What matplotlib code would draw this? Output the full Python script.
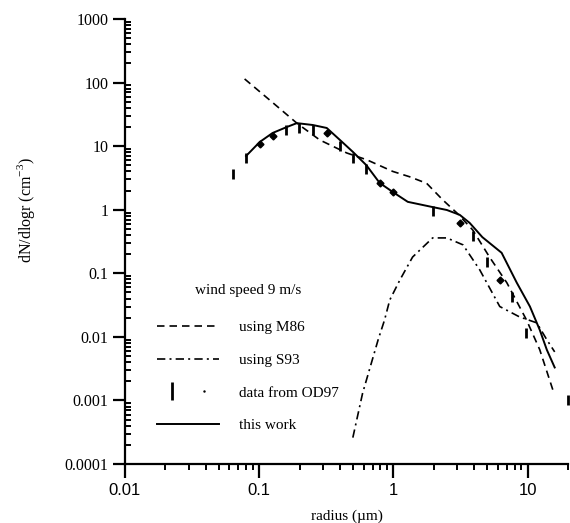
import matplotlib
matplotlib.use('Agg')
import matplotlib.pyplot as plt
from matplotlib.lines import Line2D
from matplotlib.legend_handler import HandlerTuple

# radius (um) and dN/dlogr (cm^-3)
r_this = [0.08, 0.101, 0.126, 0.161, 0.191, 0.251, 0.319, 0.40, 0.50, 0.63, 0.79, 0.99,
          1.28, 1.96, 2.5, 3.12, 3.7, 4.6, 6.4, 8.3, 10.4, 12.3, 13.9, 15.9]
n_this = [7.0, 11.6, 16.1, 20, 23, 21.5, 19.3, 12.5, 8.1, 5.0, 2.64, 1.9,
          1.33, 1.1, 0.99, 0.83, 0.62, 0.37, 0.21, 0.071, 0.030, 0.0129, 0.00625, 0.0033]

r_m86 = [0.078, 0.12, 0.191, 0.283, 0.45, 0.634, 0.99, 1.32, 1.77, 2.33, 2.97, 3.9,
         5.2, 7.0, 9.8, 12.3, 15.4]
n_m86 = [114, 53, 23, 12.5, 7.8, 6.1, 4.0, 3.3, 2.6, 1.43, 0.89, 0.48,
         0.18, 0.071, 0.0185, 0.0063, 0.00147]

r_s93 = [0.499, 0.59, 0.77, 0.86, 0.94, 1.12, 1.39, 1.96, 2.5, 3.3, 4.4, 6.2,
         8.7, 11.7, 13.9, 15.9]
n_s93 = [0.00026, 0.0013, 0.009, 0.0185, 0.038, 0.079, 0.18, 0.36, 0.36, 0.28, 0.113, 0.030,
         0.0206, 0.0166, 0.009, 0.0058]

# OD97 data points (bars and filled points)
r_bar = [0.0637, 0.0796, 0.158, 0.197, 0.251, 0.40, 0.50, 0.63, 1.96, 3.9, 5.0, 7.7, 9.8, 19.9]
n_bar = [3.66, 6.6, 18, 19, 18, 10, 6.6, 4.3, 0.94, 0.39, 0.148, 0.042, 0.0117, 0.00102]
r_dia = [0.101, 0.126, 0.319, 0.79, 0.99, 3.12, 6.2]
n_dia = [10.8, 14.5, 16, 2.6, 1.9, 0.62, 0.079]

x_ticks = [0.01, 0.1, 1, 10]
x_ticklabels = ['0.01', '0.1', '1', '10']
y_ticks = [0.0001, 0.001, 0.01, 0.1, 1, 10, 100, 1000]
y_ticklabels = ['0.0001', '0.001', '0.01', '0.1', '1', '10', '100', '1000']

plt.rcParams['font.family'] = 'Liberation Serif'
plt.rcParams['mathtext.fontset'] = 'custom'
plt.rcParams['mathtext.rm'] = 'Liberation Serif'

fig = plt.figure(figsize=(5.7, 5.23), dpi=100)
ax = fig.add_axes([0.219, 0.1128, 0.7776, 0.8509])

dash = (0, (4.5, 3))
dashdot = (0, (5, 2.5, 1.2, 2.5))

ax.plot(r_m86, n_m86, color='black', lw=1.2, linestyle=dash)
ax.plot(r_s93, n_s93, color='black', lw=1.2, linestyle=dashdot)
ax.plot(r_bar, n_bar, linestyle='none', marker='|', color='black', ms=7, mew=2, clip_on=False)
ax.plot(r_dia, n_dia, linestyle='none', marker='D', color='black', ms=3.5)
ax.plot(r_this, n_this, color='black', lw=1.4)

ax.set_xscale('log')
ax.set_yscale('log')
ax.set_xlim(0.01, 20)
ax.set_ylim(0.0001, 1000)

ax.spines['top'].set_visible(False)
ax.spines['right'].set_visible(False)
ax.spines['left'].set_linewidth(1.6)
ax.spines['bottom'].set_linewidth(1.6)

ax.set_xticks(x_ticks)
ax.set_xticklabels(x_ticklabels, fontfamily='Liberation Sans', fontsize=12)
ax.set_yticks(y_ticks)
ax.set_yticklabels(y_ticklabels, fontsize=11.5)
ax.tick_params(axis='x', which='major', direction='out', length=10, width=1.6, pad=4)
ax.tick_params(axis='x', which='minor', direction='out', length=4.5, width=1.4)
ax.tick_params(axis='y', which='major', direction='out', length=9, width=1.6, pad=3)
ax.tick_params(axis='y', which='minor', direction='in', length=4.5, width=1.4)

ax.set_xlabel('radius (\u00b5m)', fontsize=11)
ax.xaxis.set_label_coords(0.5, -0.102)
ax.set_ylabel('dN/dlogr (cm$^{-3}$)', fontsize=11.5)
ax.yaxis.set_label_coords(-0.198, 0.57)

# legend
h_m86 = Line2D([], [], color='black', lw=1.2, linestyle=dash)
h_s93 = Line2D([], [], color='black', lw=1.2, linestyle=dashdot)
h_bar = Line2D([], [], linestyle='none', marker='|', color='black', ms=13, mew=2)
h_dot = Line2D([], [], linestyle='none', marker='.', color='black', ms=1.5)
h_this = Line2D([], [], color='black', lw=1.4)
leg = ax.legend([h_m86, h_s93, (h_bar, h_dot), h_this],
                ['using M86', 'using S93', 'data from OD97', 'this work'],
                title='wind speed 9 m/s', loc='upper left', bbox_to_anchor=(0.072, 0.405),
                frameon=False, fontsize=11, title_fontsize=11, handlelength=4.1,
                handletextpad=1.3, labelspacing=1.25, borderpad=0, borderaxespad=0,
                handler_map={tuple: HandlerTuple(ndivide=None)})
leg._legend_box.sep = 17

fig.savefig('out.png', dpi=100)
